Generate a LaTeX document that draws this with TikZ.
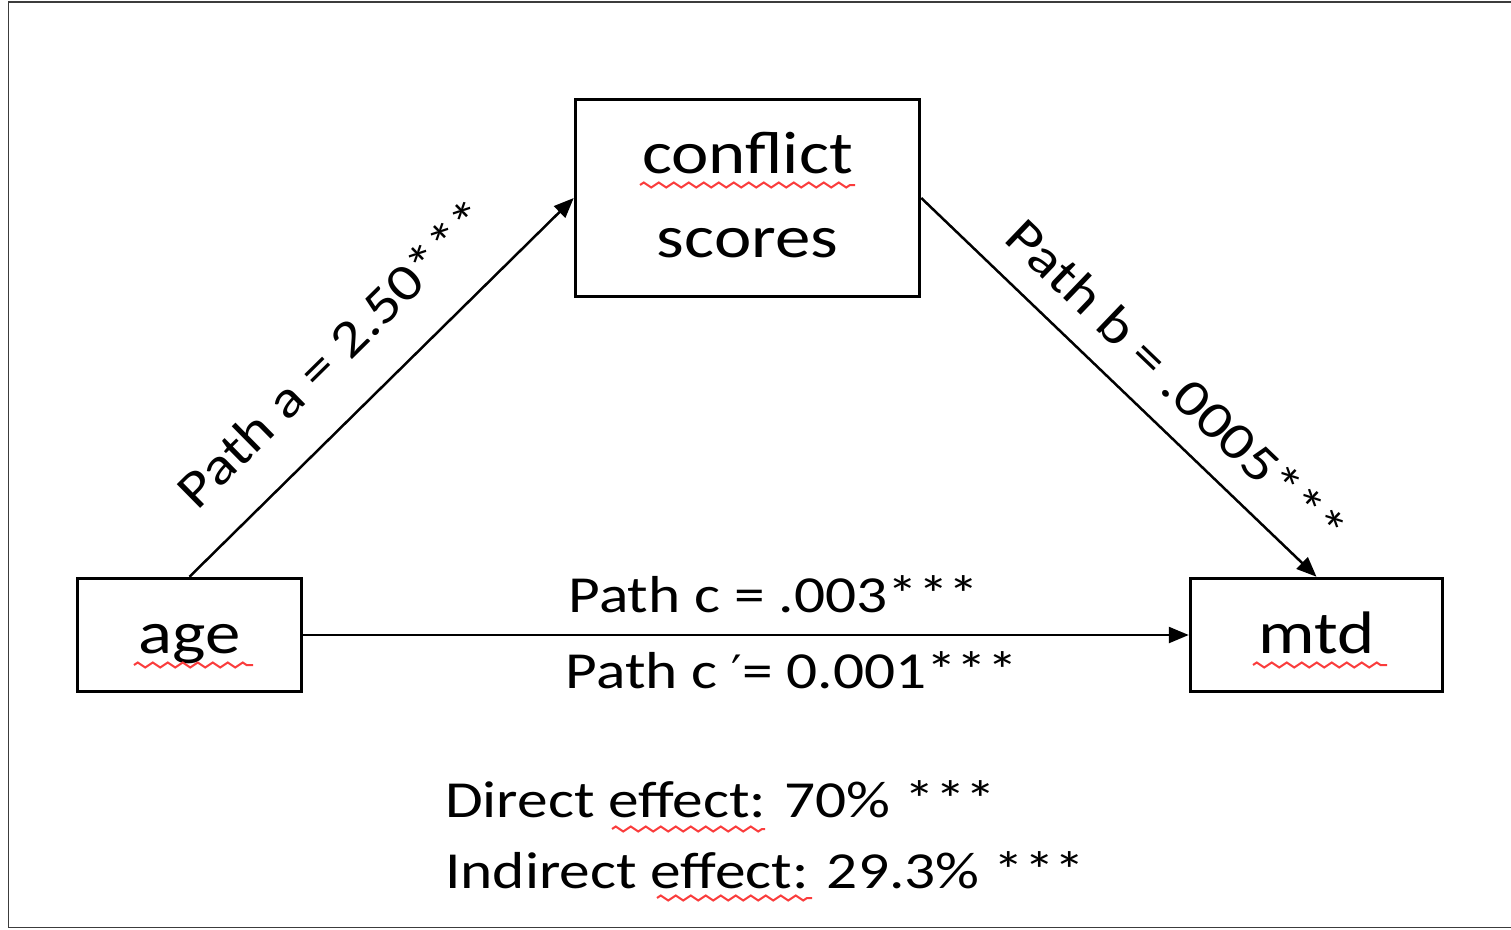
\documentclass[tikz,border=0pt]{standalone}
\usepackage{fontspec}
\setmainfont{Carlito}[FakeStretch=1.18]
\newfontfamily\primefont{DejaVu Sans}
\usetikzlibrary{arrows.meta,decorations.pathmorphing}
\definecolor{squigred}{RGB}{250,60,60}
\definecolor{framegray}{RGB}{60,60,60}
\begin{document}
\begin{tikzpicture}[x=1pt,y=-1pt,
  nodebox/.style={draw=black, line width=3.5pt, inner sep=0pt, align=center,
    font=\fontsize{60}{84}\selectfont},
  edgelbl/.style={inner sep=0pt, font=\fontsize{52}{62}\selectfont},
  conn/.style={draw=black, line width=2.5pt, -{Triangle[length=20pt,width=16pt]}},
  squig/.style={draw=squigred, line width=2pt, decorate,
    decoration={zigzag, segment length=15pt, amplitude=2.5pt}},
  frameline/.style={draw=framegray, line width=1.5pt}]
\useasboundingbox (0,0) rectangle (1511,929);
\fill[white] (0,0) rectangle (1511,929);
\draw[frameline] (1520,2) -- (8.5,2) -- (8.5,927.5) -- (1520,927.5);

% boxes
\node[nodebox, minimum width=344pt, minimum height=197pt,
      text height=118pt, text depth=0pt] (conflict) at (747.5,198) {conflict\\scores};
\node[nodebox, minimum width=224pt, minimum height=113pt,
      text height=40pt, text depth=4pt] (age) at (189.5,635) {age};
\node[nodebox, minimum width=252pt, minimum height=113pt,
      text height=40pt, text depth=4pt] (mtd) at (1316.5,635) {mtd};

% connectors
\draw[conn] (age.north) -- node[edgelbl, sloped, above=39pt, pos=0.48] (la) {Path a = 2.50***} (conflict.west);
\draw[conn] (conflict.east) -- node[edgelbl, sloped, above=24pt, pos=0.57] (lb) {Path b = .0005***} (mtd.north);
\draw[conn] (age.east) -- (mtd.west);

% path c labels
\node[edgelbl, anchor=base] (lc) at (774,612) {Path c = .003***};
\node[edgelbl, anchor=base] (lcp) at (792,688) {Path c {\primefont\fontsize{46}{52}\selectfont ′}= 0.001***};

% effects
\node[edgelbl, anchor=base west] (de) at (445,817) {Direct effect: 70\% ***};
\node[edgelbl, anchor=base west] (ie) at (445,888) {Indirect effect: 29.3\% ***};

% spell-check squiggles
\draw[squig] (640,185) -- (855,185);
\draw[squig] (134,665) -- (253,665);
\draw[squig] (1253,665) -- (1387,665);
\draw[squig] (612,829) -- (765,829);
\draw[squig] (657,898) -- (812,898);
\end{tikzpicture}
\end{document}
